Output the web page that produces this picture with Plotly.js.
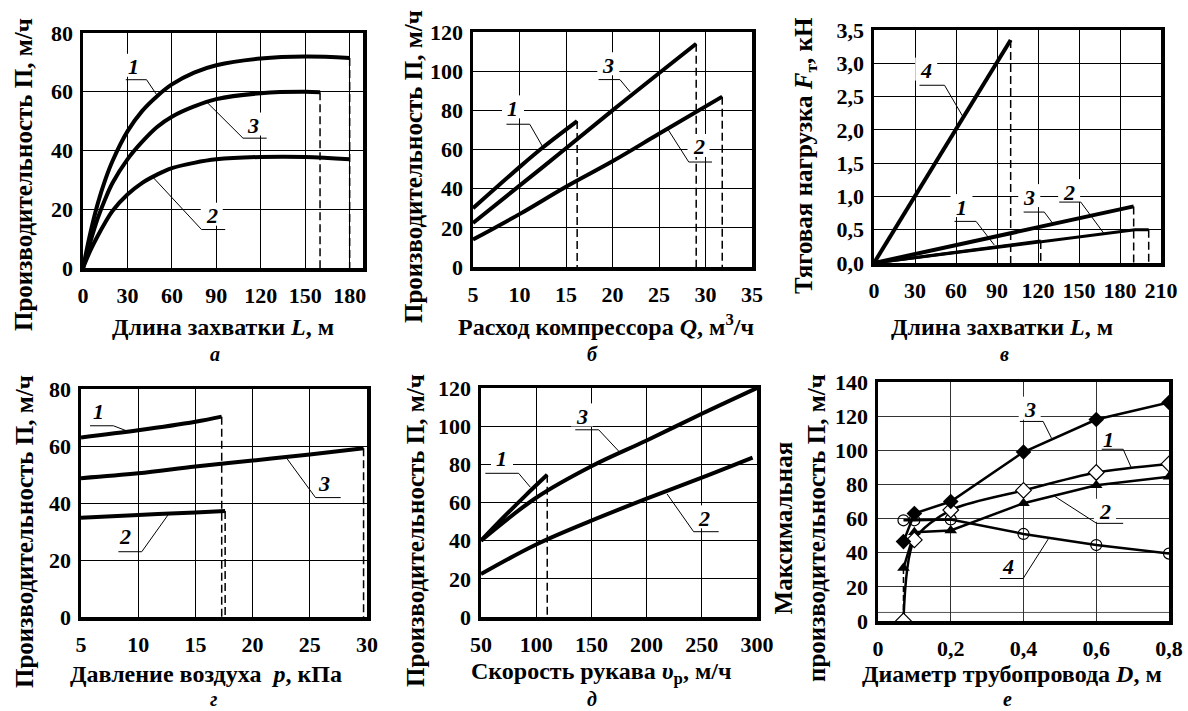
<!DOCTYPE html>
<html><head><meta charset="utf-8">
<script src="https://cdn.plot.ly/plotly-3.0.1.min.js"></script>
<style>body{margin:0;background:#fff}#plot{width:1188px;height:711px}</style>
</head><body><div id="plot"></div>
<script>
// ---------- DATA ----------
// а) Производительность vs длина захватки
const a_L1 = [0, 5, 10, 15, 20, 30, 40, 50, 60, 75, 90, 120, 150, 180];
const a_P1 = [0, 12, 22, 30, 36.5, 46.5, 53.5, 58.5, 62.5, 66.5, 69, 71.3, 72, 71.5];
const a_L3 = [0, 5, 10, 15, 20, 30, 40, 50, 60, 75, 90, 120, 150, 160];
const a_P3 = [0, 9, 17, 23.5, 29, 37, 43, 48, 51.5, 55, 57.5, 59.5, 60, 59.8];
const a_L2 = [0, 5, 10, 15, 20, 30, 40, 50, 60, 75, 90, 120, 150, 180];
const a_P2 = [0, 6, 11, 15.5, 19.5, 25, 29, 31.8, 34, 35.8, 37, 37.8, 37.8, 37];
// б) Производительность vs расход компрессора
const b_Q1 = [5, 10, 12.5, 16.2];
const b_P1 = [30, 51, 61, 74.5];
const b_Q3 = [5, 12.5, 20, 29];
const b_P3 = [22.5, 51, 80, 114];
const b_Q2 = [5, 10, 15, 20, 25, 31.8];
const b_P2 = [14, 27, 41, 54, 68, 87];
// в) Тяговая нагрузка vs длина захватки
const c_L4 = [0, 100];
const c_F4 = [0, 3.35];
const c_L3 = [0, 190];
const c_F3 = [0, 0.85];
const c_L1 = [0, 122];
const c_F1 = [0, 0.33];
const c_L2 = [0, 191, 201];
const c_F2 = [0, 0.5, 0.5];
// г) Производительность vs давление воздуха
const d_p1 = [5, 10, 15, 17.3];
const d_P1 = [63, 65.5, 68.5, 70.3];
const d_p3 = [5, 10, 15, 20, 25, 29.7];
const d_P3 = [48.7, 50.4, 52.8, 54.9, 57, 59.2];
const d_p2 = [5, 10, 15, 17.6];
const d_P2 = [34.8, 35.8, 36.7, 37.2];
// д) Производительность vs скорость рукава
const e_v1 = [50, 70, 90, 110];
const e_P1 = [40, 52, 63.5, 74.5];
const e_v3 = [50, 100, 150, 200, 250, 300];
const e_P3 = [40, 62.5, 79, 92.5, 106.5, 120];
const e_v2 = [50, 100, 150, 200, 250, 296];
const e_P2 = [22.5, 38, 50.5, 62, 73, 83.5];
// е) Максимальная производительность vs диаметр трубопровода
const f_D = [0.07, 0.1, 0.2, 0.4, 0.6, 0.8];
const f_P3 = [46.5, 63, 70, 99, 118, 128];
const f_P1 = [0, 47.5, 65, 76.5, 87, 92];
const f_P2 = [31, 52, 53, 69, 79.5, 84.5];
const f_P4 = [59, 59, 59.5, 51, 44.5, 39.5];

// tick settings
const a_xt = {range: [0, 189], dtick: 30}, a_yt = {range: [0, 80], dtick: 20};
const b_xt = {range: [5, 35], dtick: 5}, b_yt = {range: [0, 120], dtick: 20};
const c_xt = {range: [0, 210], dtick: 30}, c_yt = {range: [0, 3.5], dtick: 0.5};
const d_xt = {range: [5, 30], dtick: 5}, d_yt = {range: [0, 80], dtick: 20};
const e_xt = {range: [50, 300], dtick: 50}, e_yt = {range: [0, 120], dtick: 20};
const f_xt = {range: [0, 0.8], dtick: 0.2}, f_yt = {range: [0, 140], dtick: 20};

// ---------- BUILD ----------
const W = 1188, H = 711;
const PX = v => v / W, PY = v => 1 - v / H;
const SERIF = '"Liberation Serif", "Times New Roman", serif';
const traces = [];
function sid(n) { return n === 1 ? '' : String(n); }
function curve(x, y, n, extra) {
  traces.push(Object.assign({x: x, y: y, xaxis: 'x' + sid(n), yaxis: 'y' + sid(n),
    mode: 'lines', line: {color: 'black', width: 4, shape: 'spline', smoothing: 1}, hoverinfo: 'x+y'}, extra || {}));
}
function dropLast(x, y, n) { // dashed line from the last point down to 0
  const xe = x[x.length - 1], ye = y[y.length - 1];
  traces.push({x: [xe, xe], y: [ye, 0], xaxis: 'x' + sid(n), yaxis: 'y' + sid(n),
    mode: 'lines', line: {color: 'black', width: 1.5, dash: '8px,4px'}, hoverinfo: 'skip'});
}
function dropFirst(x, y, n) {
  traces.push({x: [x[0], x[0]], y: [y[0], 0], xaxis: 'x' + sid(n), yaxis: 'y' + sid(n),
    mode: 'lines', line: {color: 'black', width: 1.5, dash: '6px,3px'}, hoverinfo: 'skip'});
}
// a
curve(a_L1, a_P1, 1); curve(a_L3, a_P3, 1); curve(a_L2, a_P2, 1);
dropLast(a_L1, a_P1, 1); dropLast(a_L3, a_P3, 1);
// b
curve(b_Q1, b_P1, 2); curve(b_Q3, b_P3, 2); curve(b_Q2, b_P2, 2);
dropLast(b_Q1, b_P1, 2); dropLast(b_Q3, b_P3, 2); dropLast(b_Q2, b_P2, 2);
// c
curve(c_L4, c_F4, 3); curve(c_L3, c_F3, 3);
curve(c_L1, c_F1, 3, {line: {color: 'black', width: 3}}); curve(c_L2, c_F2, 3, {line: {color: 'black', width: 3}});
dropLast(c_L4, c_F4, 3); dropLast(c_L3, c_F3, 3); dropLast(c_L1, c_F1, 3); dropLast(c_L2, c_F2, 3);
// d
curve(d_p1, d_P1, 4); curve(d_p3, d_P3, 4); curve(d_p2, d_P2, 4);
dropLast(d_p1, d_P1, 4); dropLast(d_p3, d_P3, 4); dropLast(d_p2, d_P2, 4);
// e
curve(e_v1, e_P1, 5); curve(e_v3, e_P3, 5); curve(e_v2, e_P2, 5);
dropLast(e_v1, e_P1, 5);
// f
dropFirst(f_D, f_P2, 6);
const fl = {color: 'black', width: 2.5};
traces.push({x: f_D, y: f_P4, xaxis: 'x6', yaxis: 'y6', mode: 'lines+markers', line: fl,
  marker: {symbol: 'circle-open', size: 11, color: 'black', line: {width: 1.2, color: 'black'}}});
traces.push({x: f_D, y: f_P2, xaxis: 'x6', yaxis: 'y6', mode: 'lines+markers', line: fl,
  marker: {symbol: 'triangle-up', size: 11, color: 'black'}});
traces.push({x: f_D, y: f_P1, xaxis: 'x6', yaxis: 'y6', mode: 'lines+markers', line: {color: 'black', width: 2.5, shape: 'spline', smoothing: 0.8},
  marker: {symbol: 'diamond', size: 12, color: 'white', line: {width: 1.2, color: 'black'}}});
traces.push({x: f_D, y: f_P3, xaxis: 'x6', yaxis: 'y6', mode: 'lines+markers', line: fl,
  marker: {symbol: 'diamond', size: 12, color: 'black'}});

// axes
function axis(dom, t, anchor, letter, grid) {
  return Object.assign({domain: dom, anchor: anchor, tick0: t.range[0], showgrid: true,
    gridcolor: grid || 'black', gridwidth: 1, showline: true, mirror: true, linewidth: 3.5, linecolor: 'black',
    zeroline: false, ticks: '', fixedrange: true, ticklabelstandoff: letter === 'x' ? 5 : 2,
    tickfont: {family: SERIF, size: 22, color: 'black', weight: 'bold'}}, t);
}
const layout = {
  width: W, height: H, margin: {l: 0, r: 0, t: 0, b: 0}, paper_bgcolor: 'white', plot_bgcolor: 'white',
  showlegend: false, separators: ', ', font: {family: SERIF, color: 'black'},
  xaxis:  axis([PX(83), PX(363)], a_xt, 'y', 'x'),
  yaxis:  axis([PY(268), PY(33)], a_yt, 'x', 'y'),
  xaxis2: axis([PX(473), PX(752)], b_xt, 'y2', 'x'),
  yaxis2: axis([PY(267), PY(32)], b_yt, 'x2', 'y'),
  xaxis3: axis([PX(874), PX(1161)], c_xt, 'y3', 'x'),
  yaxis3: axis([PY(263), PY(30)], Object.assign({tickformat: '.1f'}, c_yt), 'x3', 'y'),
  xaxis4: axis([PX(81), PX(367)], d_xt, 'y4', 'x'),
  yaxis4: axis([PY(617), PY(389)], d_yt, 'x4', 'y'),
  xaxis5: axis([PX(481), PX(757)], e_xt, 'y5', 'x'),
  yaxis5: axis([PY(617), PY(388)], e_yt, 'x5', 'y'),
  xaxis6: axis([PX(878), PX(1169)], f_xt, 'y6', 'x', '#333'),
  yaxis6: axis([PY(621), PY(382)], f_yt, 'x6', 'y', '#333'),
  annotations: [], shapes: []
};

// axis titles and panel letters (paper coords)
function ptext(text, x, y, size, angle) {
  layout.annotations.push({text: text, xref: 'paper', yref: 'paper', x: PX(x), y: PY(y), showarrow: false,
    xanchor: 'center', yanchor: 'middle', textangle: angle || 0,
    font: {family: SERIF, size: size, color: 'black', weight: 'bold'}});
}
ptext('Длина захватки <i>L</i>, м', 223, 327, 24);
ptext('Расход компрессора <i>Q</i>, м<sup>3</sup>/ч', 606, 325, 24);
ptext('Длина захватки <i>L</i>, м', 1002, 327, 24);
ptext('Давление воздуха  <i>p</i>, кПа', 206, 674, 24);
ptext('Скорость рукава <i>υ</i><sub>р</sub>, м/ч', 601, 673, 24);
ptext('Диаметр трубопровода <i>D</i>, м', 1012, 674, 24);
ptext('Производительность П, м/ч', 24, 175, 25, -90);
ptext('Производительность П, м/ч', 414, 167, 25, -90);
ptext('Тяговая нагрузка <i>F</i><sub>т</sub>, кН', 805, 156, 25, -90);
ptext('Производительность П, м/ч', 24, 532, 25, -90);
ptext('Производительность П, м/ч', 415, 531, 25, -90);
ptext('Максимальная<br>производительность П, м/ч', 800, 528, 25, -90);
ptext('<i>а</i>', 215, 354, 20);
ptext('<i>б</i>', 592, 354, 20);
ptext('<i>в</i>', 1005, 354, 20);
ptext('<i>г</i>', 213, 699, 20);
ptext('<i>д</i>', 592, 699, 20);
ptext('<i>е</i>', 1007, 699, 20);

// curve number labels: white box (hides gridlines), underline + leader, italic number
function tag(n, txt, tx, ty, u0, u1, uy, sx, ex, ey) {
  const s = sid(n);
  layout.shapes.push({type: 'rect', xref: 'x' + s, yref: 'y' + s,
    xsizemode: 'pixel', ysizemode: 'pixel', xanchor: tx, yanchor: ty, x0: -11, x1: 11, y0: -10, y1: 13,
    fillcolor: 'white', line: {width: 0}});
  layout.shapes.push({type: 'path', xref: 'x' + s, yref: 'y' + s,
    path: `M ${u0},${uy} L ${u1},${uy} M ${sx},${uy} L ${ex},${ey}`, line: {color: 'black', width: 1}});
  layout.annotations.push({text: '<i>' + txt + '</i>', xref: 'x' + s, yref: 'y' + s, x: tx, y: ty,
    showarrow: false, font: {family: SERIF, size: 22, color: 'black', weight: 'bold'}});
}
tag(1, '1', 33.9, 68.5, 28.9, 42.9, 64.1, 42.9, 49.7, 59.0);
tag(1, '3', 115, 48.5, 108, 124, 44.2, 108, 83.5, 56.5);
tag(1, '2', 86.9, 17.8, 80, 96, 13.1, 80, 47.4, 30.8);
tag(2, '1', 9.3, 81, 8.6, 11.1, 72.9, 11.1, 12.5, 61.3);
tag(2, '3', 19.55, 103, 18.5, 20.8, 95.7, 20.8, 21.9, 89.4);
tag(2, '2', 29.25, 61.3, 28.2, 30.7, 53.6, 28.2, 26.0, 70);
tag(3, '4', 38.2, 2.89, 33.3, 51.6, 2.67, 51.6, 65, 2.2);
tag(3, '1', 64, 0.84, 58.9, 74.7, 0.625, 74.7, 88, 0.27);
tag(3, '3', 113.6, 0.99, 109.5, 124.6, 0.765, 124.6, 131, 0.59);
tag(3, '2', 142.8, 1.065, 135.5, 151.3, 0.915, 151.3, 168, 0.45);
tag(4, '1', 6.52, 72.1, 5.79, 7.83, 67.1, 7.83, 9.0, 65.3);
tag(4, '3', 26.2, 46.9, 25.5, 27.7, 41.9, 25.5, 23.0, 55.6);
tag(4, '2', 8.85, 28.2, 8.27, 10.31, 22.9, 10.31, 12.64, 36.0);
tag(5, '1', 69, 83.2, 53.9, 84.1, 75.3, 84.1, 94.7, 68);
tag(5, '3', 141.5, 105.1, 135.4, 156.6, 98.1, 156.6, 176.2, 86);
tag(5, '2', 251.7, 51.7, 242.6, 265.3, 44.7, 242.6, 218.5, 64.5);
tag(6, '3', 0.417, 123.8, 0.39, 0.454, 116.9, 0.454, 0.477, 107.1);
tag(6, '1', 0.633, 106.1, 0.615, 0.674, 100.6, 0.674, 0.697, 89.5);
tag(6, '2', 0.624, 64.0, 0.601, 0.674, 57.2, 0.601, 0.486, 73.0);
tag(6, '4', 0.358, 31.7, 0.335, 0.399, 24.9, 0.399, 0.468, 48.0);
// extra thin reference line near the bottom of panel е
layout.shapes.push({type: 'line', layer: 'below', xref: 'x6', yref: 'y6', x0: 0, x1: 0.8, y0: 5, y1: 5,
  line: {color: '#555', width: 1}});

Plotly.newPlot('plot', traces, layout, {displayModeBar: false, staticPlot: true});
</script></body></html>
